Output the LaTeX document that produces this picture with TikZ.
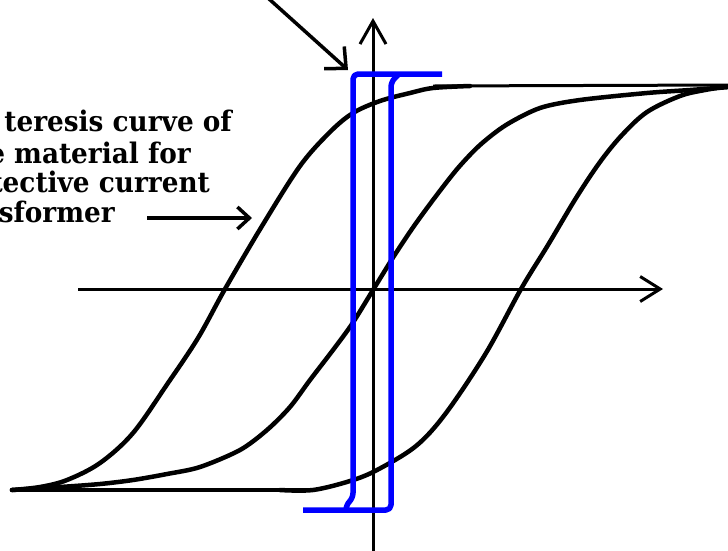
\documentclass[tikz,border=0pt]{standalone}
\usepackage{fontspec}
\setmainfont{DejaVu Serif}
\newfontfamily\lblfont{DejaVu Serif Bold}[FakeStretch=0.93]
\usetikzlibrary{arrows.meta}
\begin{document}
\begin{tikzpicture}[x=1pt,y=-1pt,
  curve/.style={line width=4.5pt, line join=round, line cap=round},
  axisline/.style={line width=3pt},
  pointer/.style={line width=3.5pt},
  loopline/.style={draw=blue, line width=5.5pt, line join=round, rounded corners=5pt},
  lbl/.style={font=\fontsize{28.3}{30}\lblfont, inner sep=0pt, anchor=base east}]
\useasboundingbox (0,0) rectangle (728,550);

% axes
\coordinate (ybot) at (373,552);
\coordinate (ytop) at (373,18);
\coordinate (xl) at (78,289);
\coordinate (xr) at (663,289);
\draw[axisline, -{Straight Barb[length=23pt,width=26pt]}] (ybot) -- (ytop);
\draw[axisline, -{Straight Barb[length=20pt,width=25pt]}] (xl) -- (xr);

% outer loop, left (upper) branch
\draw[curve] plot[smooth, tension=0.55] coordinates {(12,490) (40,487) (67,480) (100,463) (133,433) (168,383) (198,338) (225,289) (262,226) (300,166) (330,132) (353,113) (380,101) (410,93) (433,88) (470,86)};
\draw[line width=3pt] (433,86) -- (730,85);

% outer loop, right (lower) branch
\draw[curve] (12,490) -- (313,490);
\draw[curve] plot[smooth, tension=0.55] coordinates {(280,490) (313,490) (350,481) (377,470) (416,446) (446,413) (486,353) (521,289) (548,245) (576,198) (600,162) (622,135) (647,112) (680,96) (705,90) (730,86)};

% middle curve
\draw[curve] plot[smooth, tension=0.5] coordinates {(12,490) (60,487) (100,484) (133,480) (167,474) (200,467) (240,450) (267,430) (290,407) (310,380) (333,350) (352,324) (373,290) (394,256) (414,226) (436,196) (458,168) (480,145) (506,125) (540,108) (580,100) (647,93) (690,90) (730,87)};

% blue rectangular loop
\draw[loopline] (442,74) -- (353,74) -- (353,498) -- (346,505) -- (346,510);
\draw[loopline] (303,510) -- (391,510) -- (391,82) -- (399,74);

% pointer arrow at top
\coordinate (pa) at (268,-2);
\coordinate (pb) at (348,70);
\draw[pointer, -{Straight Barb[length=16pt,width=30pt]}] (pa) -- (pb);

% label
\node[lbl] (l1) at (232,131) {teresis curve of};
\node[lbl] (l2) at (191,163) {e material for};
\node[lbl] (l3) at (210,192) {tective current};
\node[lbl] (l4) at (115,222) {sformer};
\coordinate (la) at (147,218);
\coordinate (lb) at (252,218);
\draw[pointer, -{Straight Barb[length=12pt,width=22pt]}] (la) -- (lb);
\end{tikzpicture}
\end{document}
